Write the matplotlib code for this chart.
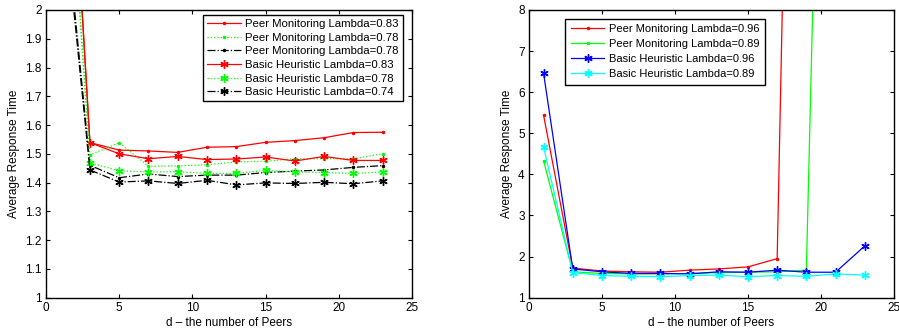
import matplotlib
matplotlib.use("Agg")
import matplotlib.pyplot as plt

plt.rcParams["font.family"] = ["Liberation Sans", "DejaVu Sans"]
plt.rcParams["font.size"] = 8.2

peers = [1, 3, 5, 7, 9, 11, 13, 15, 17, 19, 21, 23]

# left panel
pm_083 = [3.25, 1.539, 1.513, 1.510, 1.505, 1.523, 1.525, 1.540, 1.546, 1.556, 1.574, 1.575]
pm_078_g = [2.97, 1.496, 1.539, 1.457, 1.458, 1.462, 1.472, 1.474, 1.483, 1.483, 1.483, 1.500]
pm_078_k = [2.49, 1.460, 1.417, 1.430, 1.421, 1.426, 1.426, 1.435, 1.440, 1.444, 1.453, 1.459]
bh_083 = [3.25, 1.539, 1.500, 1.483, 1.491, 1.480, 1.482, 1.489, 1.475, 1.491, 1.477, 1.477]
bh_078 = [2.95, 1.469, 1.441, 1.437, 1.438, 1.432, 1.432, 1.443, 1.437, 1.435, 1.432, 1.437]
bh_074 = [2.45, 1.444, 1.402, 1.406, 1.397, 1.408, 1.392, 1.399, 1.397, 1.401, 1.396, 1.406]

# right panel
pm_096 = [5.44, 1.72, 1.65, 1.63, 1.62, 1.67, 1.70, 1.75, 1.95, 36.5, 60.0, 90.0]
pm_089 = [4.33, 1.63, 1.59, 1.58, 1.58, 1.59, 1.61, 1.62, 1.63, 1.67, 31.0, 60.0]
bh_096 = [6.46, 1.70, 1.63, 1.59, 1.59, 1.58, 1.63, 1.62, 1.67, 1.62, 1.62, 2.26]
bh_089 = [4.67, 1.61, 1.54, 1.52, 1.51, 1.54, 1.55, 1.51, 1.54, 1.52, 1.58, 1.55]

fig = plt.figure(figsize=(8.99, 3.32), dpi=100)
ax1 = fig.add_axes([0.0512, 0.1033, 0.407, 0.8667])
ax2 = fig.add_axes([0.5884, 0.1033, 0.406, 0.8667])

red, green = "#ff0000", "#00ff00"
lw = 0.9
star = (6, 2, 0)  # matlab-style asterisk
dot = dict(marker=".", ms=3)
ast = dict(marker=star, ms=6, mew=1.0)

ax1.plot(peers, pm_083, "-", color=red, lw=lw, **dot, label="Peer Monitoring Lambda=0.83")
ax1.plot(peers, pm_078_g, ":", color=green, lw=lw, **dot, label="Peer Monitoring Lambda=0.78")
ax1.plot(peers, pm_078_k, "-.", color="black", lw=lw, **dot, label="Peer Monitoring Lambda=0.78")
ax1.plot(peers, bh_083, "-", color=red, lw=lw, **ast, label="Basic Heuristic Lambda=0.83")
ax1.plot(peers, bh_078, ":", color=green, lw=lw, **ast, label="Basic Heuristic Lambda=0.78")
ax1.plot(peers, bh_074, "-.", color="black", lw=lw, **ast, label="Basic Heuristic Lambda=0.74")
ax1.set_xlim(0, 25)
ax1.set_ylim(1, 2)
ax1.set_yticks([1 + 0.1 * i for i in range(11)])
ax1.set_yticklabels(["1", "1.1", "1.2", "1.3", "1.4", "1.5", "1.6", "1.7", "1.8", "1.9", "2"])

ax2.plot(peers, pm_096, "-", color=red, lw=lw, **dot, label="Peer Monitoring Lambda=0.96")
ax2.plot(peers, pm_089, "-", color=green, lw=lw, **dot, label="Peer Monitoring Lambda=0.89")
ax2.plot(peers, bh_096, "-", color="#0000ff", lw=lw, **ast, label="Basic Heuristic Lambda=0.96")
ax2.plot(peers, bh_089, "-", color="#00ffff", lw=lw, **ast, label="Basic Heuristic Lambda=0.89")
ax2.set_xlim(0, 25)
ax2.set_ylim(1, 8)

for ax in (ax1, ax2):
    ax.set_xticks([0, 5, 10, 15, 20, 25])
    ax.tick_params(direction="in", top=True, right=True, length=3, width=0.8, labelsize=8.5, pad=3)
    for s in ax.spines.values():
        s.set_linewidth(1.0)
    ax.set_xlabel("d \u2013 the number of Peers", fontsize=8.5, labelpad=2)
    ax.set_ylabel("Average Response Time", fontsize=8.5, labelpad=4)

leg1 = ax1.legend(loc="upper right", bbox_to_anchor=(0.975, 0.982), fontsize=8.2, fancybox=False,
                  edgecolor="black", framealpha=1, borderpad=0.35, labelspacing=0.32,
                  handlelength=3.0, handletextpad=0.4, borderaxespad=0)
leg1.get_frame().set_linewidth(1.0)
leg2 = ax2.legend(loc="upper left", bbox_to_anchor=(0.10, 0.97), fontsize=8.0, fancybox=False,
                  edgecolor="black", framealpha=1, borderpad=0.5, labelspacing=0.45,
                  handlelength=3.0, handletextpad=0.4, borderaxespad=0)
leg2.get_frame().set_linewidth(1.0)

fig.savefig("out.png", dpi=100)
